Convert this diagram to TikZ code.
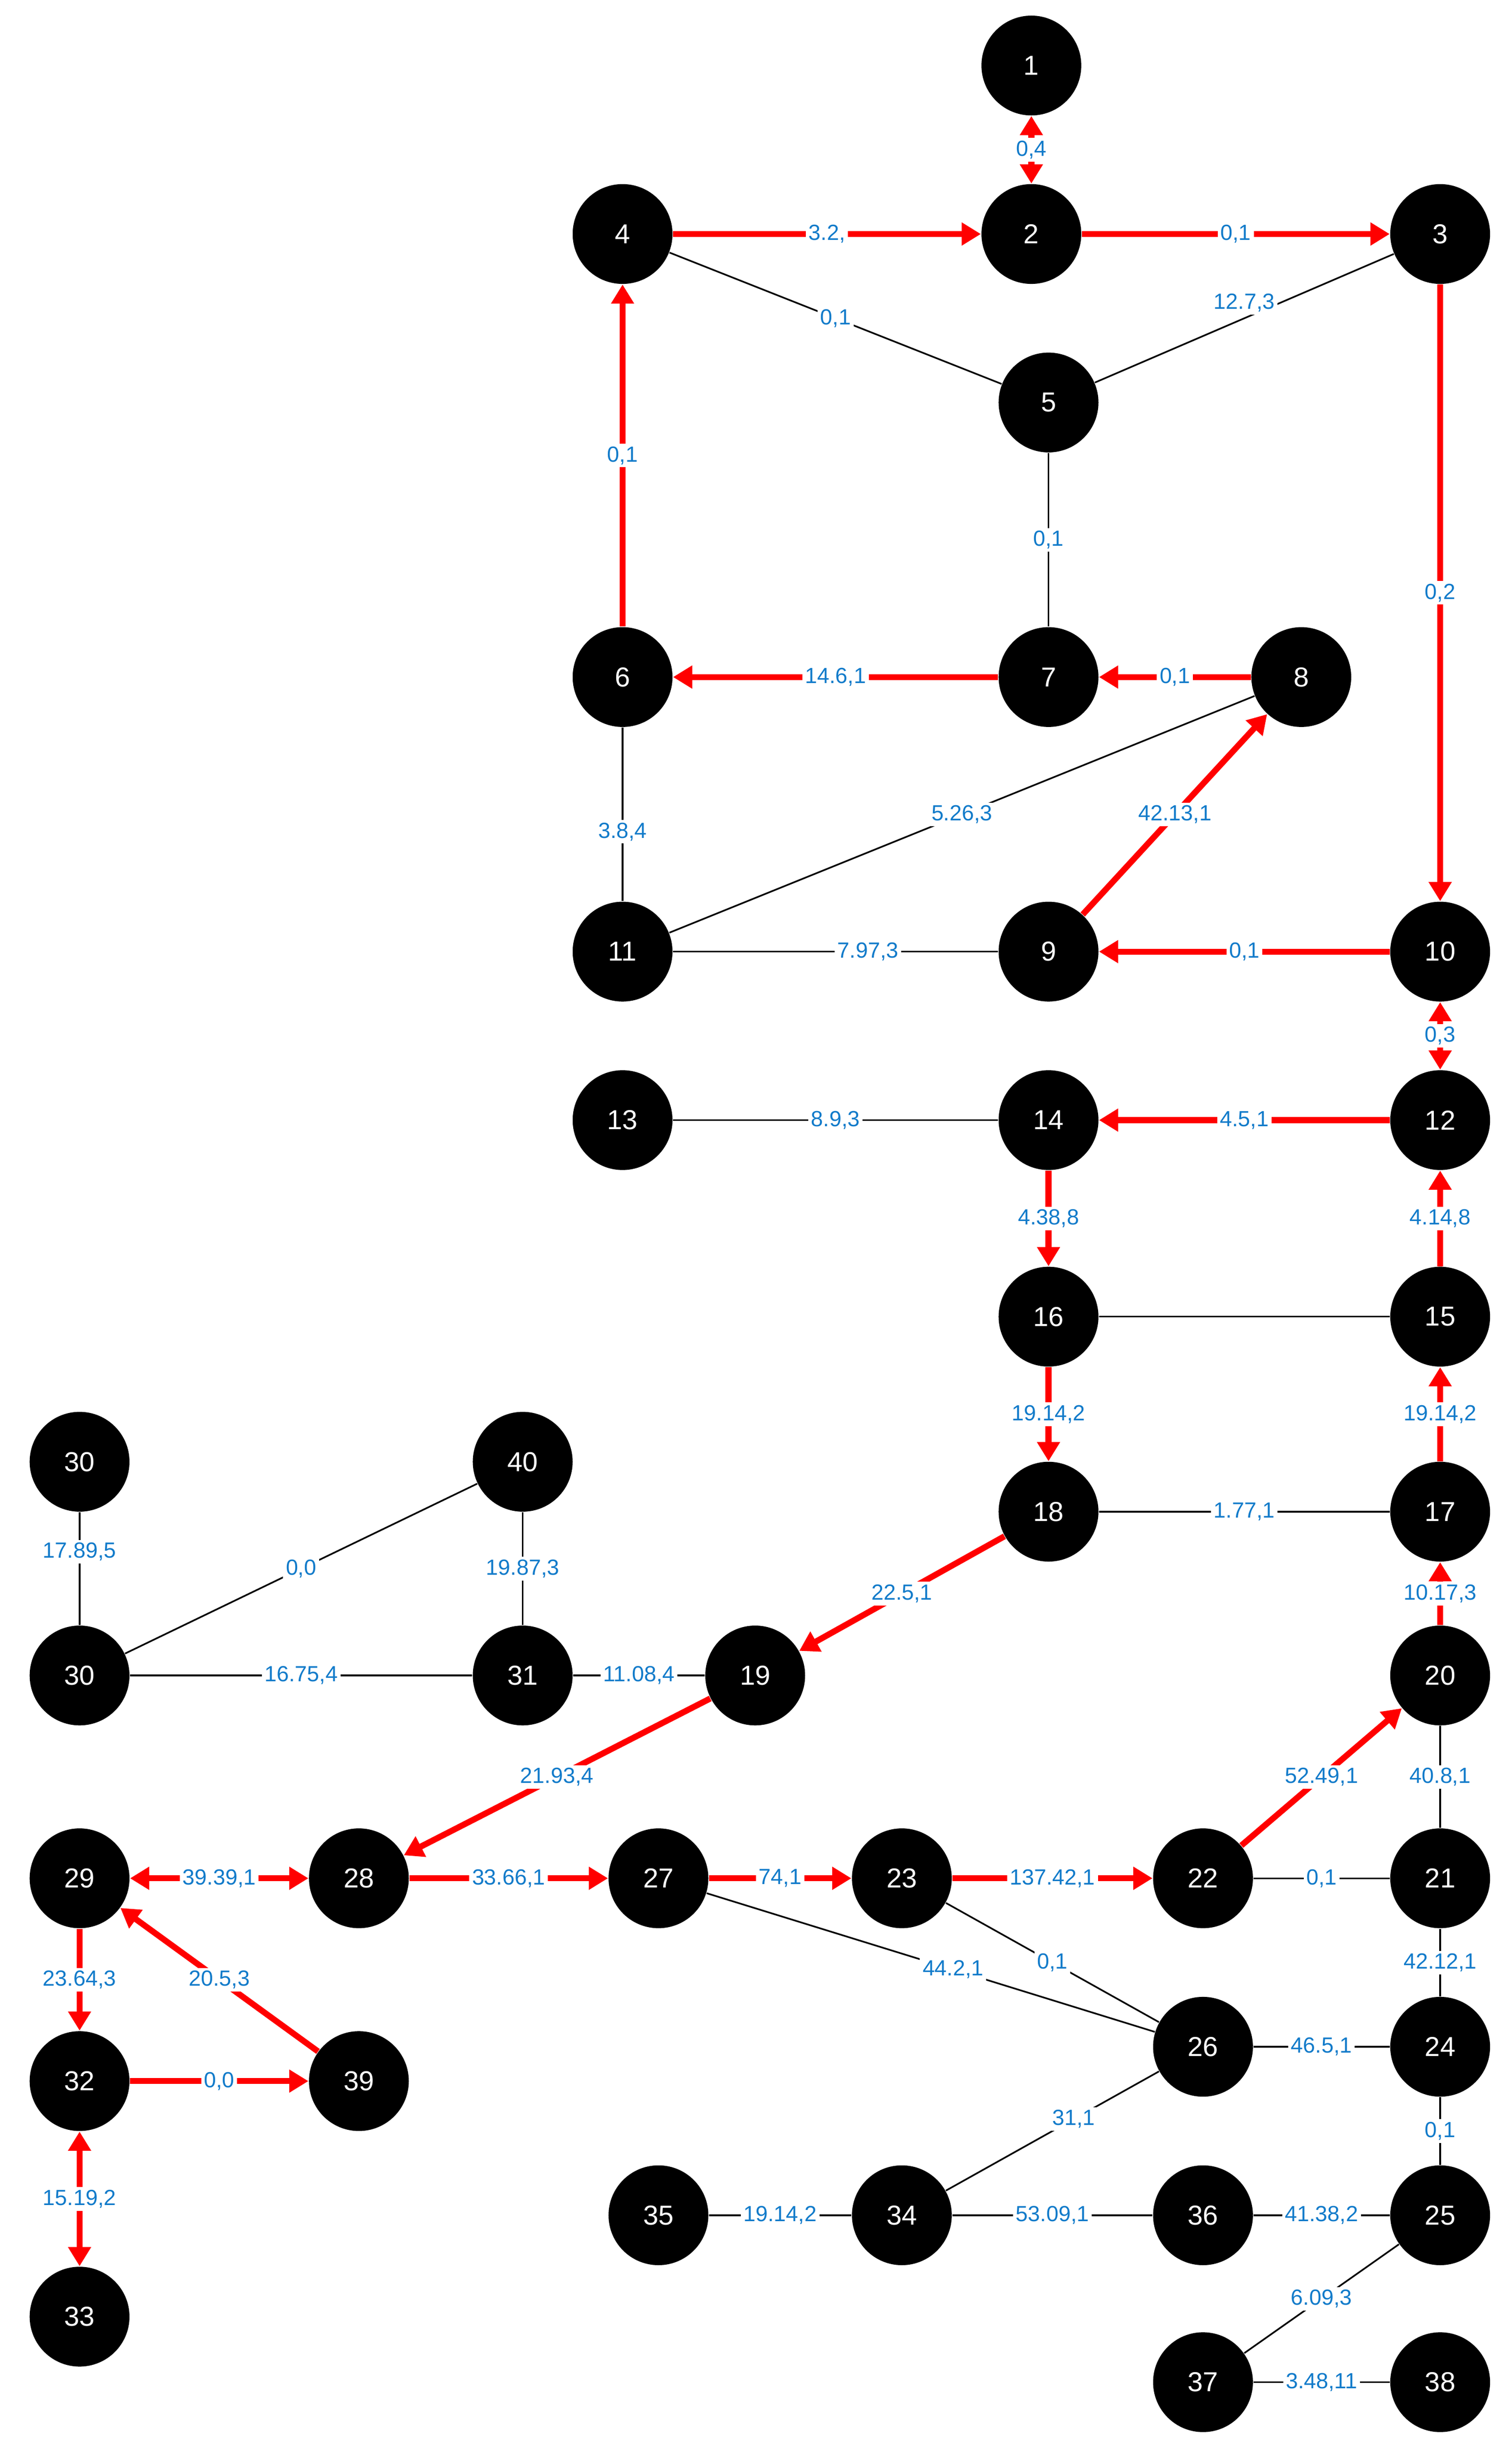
\documentclass[tikz,border=0pt]{standalone}
\usepackage{fontspec}
\setmainfont{Liberation Sans}
\usetikzlibrary{arrows.meta}

\tikzset{
    vertex/.style = {circle, fill=black, text=white, minimum size=1.28cm, inner sep=0pt, font=\fontsize{10}{12}\selectfont},
    flow/.style = {red, line width=2.2pt, -{Triangle[length=7pt, width=8pt]}},
    both/.style = {red, line width=2.2pt, {Triangle[length=7pt, width=8pt]}-{Triangle[length=7pt, width=8pt]}},
    plain/.style = {black, line width=0.6pt},
    cost/.style = {fill=white, inner sep=1pt, text=cyan!60!blue, font=\fontsize{8}{9}\selectfont}
}

\begin{document}
\begin{tikzpicture}[x=0.02cm, y=-0.02cm, line join = round]
    \useasboundingbox (0,0) rectangle (969,1566);

    \foreach \n/\x/\y in {1/661/42, 2/661/150, 3/923/150, 4/399/150, 5/672/258,
        6/399/434, 7/672/434, 8/834/434, 9/672/610, 10/923/610, 11/399/610,
        12/923/718, 13/399/718, 14/672/718, 15/923/844, 16/672/844,
        17/923/969, 18/672/969, 19/484/1074, 20/923/1074, 21/923/1204,
        22/771/1204, 23/578/1204, 24/923/1312, 25/923/1420, 26/771/1312,
        27/422/1204, 28/230/1204, 29/51/1204, 30/51/1074, 31/335/1074,
        32/51/1334, 33/51/1485, 34/578/1420, 35/422/1420, 36/771/1420,
        37/771/1527, 38/923/1527, 39/230/1334, 40/335/937}
        \node[vertex] (n\n) at (\x,\y) {\n};
    \node[vertex] (n30a) at (51,937) {30};

    % plain links
    \draw[plain] (n4) -- node[cost] {0,1} (n5);
    \draw[plain] (n5) -- node[cost, above, yshift=1pt] {12.7,3} (n3);
    \draw[plain] (n5) -- node[cost] {0,1} (n7);
    \draw[plain] (n6) -- node[cost, pos=0.6] {3.8,4} (n11);
    \draw[plain] (n11) -- node[cost] {5.26,3} (n8);
    \draw[plain] (n11) -- node[cost, pos=0.6] {7.97,3} (n9);
    \draw[plain] (n13) -- node[cost] {8.9,3} (n14);
    \draw[plain] (n16) -- (n15);
    \draw[plain] (n18) -- node[cost] {1.77,1} (n17);
    \draw[plain] (n30a) -- node[cost, pos=0.35] {17.89,5} (n30);
    \draw[plain] (n30) -- node[cost] {0,0} (n40);
    \draw[plain] (n40) -- node[cost] {19.87,3} (n31);
    \draw[plain] (n30) -- node[cost] {16.75,4} (n31);
    \draw[plain] (n31) -- node[cost] {11.08,4} (n19);
    \draw[plain] (n20) -- node[cost] {40.8,1} (n21);
    \draw[plain] (n22) -- node[cost] {0,1} (n21);
    \draw[plain] (n21) -- node[cost] {42.12,1} (n24);
    \draw[plain] (n23) -- node[cost] {0,1} (n26);
    \draw[plain] (n27) -- node[cost, pos=0.55] {44.2,1} (n26);
    \draw[plain] (n26) -- node[cost] {46.5,1} (n24);
    \draw[plain] (n24) -- node[cost] {0,1} (n25);
    \draw[plain] (n26) -- node[cost, pos=0.4] {31,1} (n34);
    \draw[plain] (n35) -- node[cost] {19.14,2} (n34);
    \draw[plain] (n34) -- node[cost] {53.09,1} (n36);
    \draw[plain] (n36) -- node[cost] {41.38,2} (n25);
    \draw[plain] (n25) -- node[cost] {6.09,3} (n37);
    \draw[plain] (n37) -- node[cost] {3.48,11} (n38);

    % flows
    \draw[both] (n1) -- node[cost] {0,4} (n2);
    \draw[flow] (n4) -- node[cost] {3.2,} (n2);
    \draw[flow] (n2) -- node[cost] {0,1} (n3);
    \draw[flow] (n3) -- node[cost] {0,2} (n10);
    \draw[flow] (n10) -- node[cost] {0,1} (n9);
    \draw[flow] (n9) -- node[cost] {42.13,1} (n8);
    \draw[flow] (n8) -- node[cost] {0,1} (n7);
    \draw[flow] (n7) -- node[cost] {14.6,1} (n6);
    \draw[flow] (n6) -- node[cost] {0,1} (n4);
    \draw[both] (n10) -- node[cost] {0,3} (n12);
    \draw[flow] (n12) -- node[cost] {4.5,1} (n14);
    \draw[flow] (n14) -- node[cost] {4.38,8} (n16);
    \draw[flow] (n15) -- node[cost] {4.14,8} (n12);
    \draw[flow] (n16) -- node[cost] {19.14,2} (n18);
    \draw[flow] (n17) -- node[cost] {19.14,2} (n15);
    \draw[flow] (n20) -- node[cost] {10.17,3} (n17);
    \draw[flow] (n18) -- node[cost] {22.5,1} (n19);
    \draw[flow] (n19) -- node[cost] {21.93,4} (n28);
    \draw[both] (n29) -- node[cost] {39.39,1} (n28);
    \draw[flow] (n28) -- node[cost] {33.66,1} (n27);
    \draw[flow] (n27) -- node[cost] {74,1} (n23);
    \draw[flow] (n23) -- node[cost] {137.42,1} (n22);
    \draw[flow] (n22) -- node[cost] {52.49,1} (n20);
    \draw[flow] (n29) -- node[cost] {23.64,3} (n32);
    \draw[flow] (n39) -- node[cost] {20.5,3} (n29);
    \draw[flow] (n32) -- node[cost] {0,0} (n39);
    \draw[both] (n32) -- node[cost] {15.19,2} (n33);
\end{tikzpicture}
\end{document}
